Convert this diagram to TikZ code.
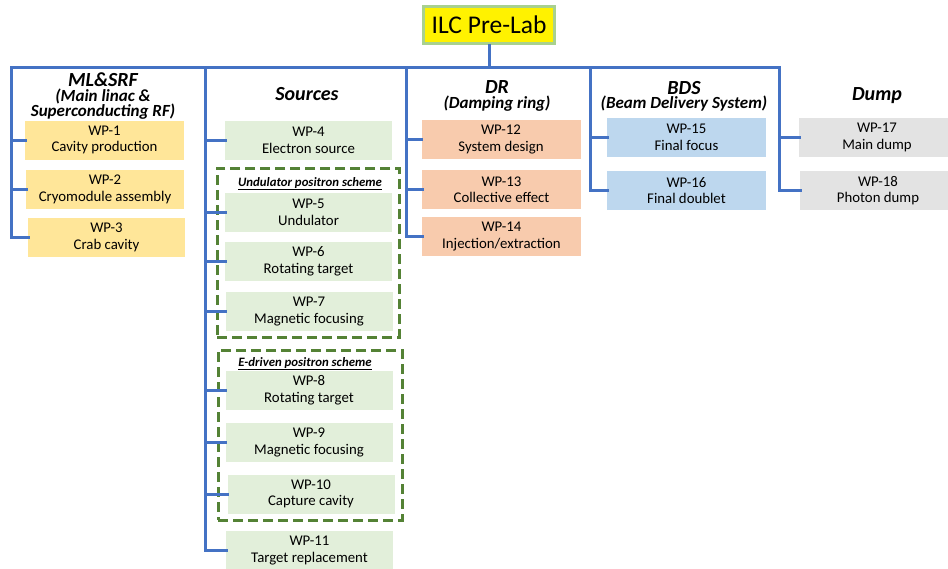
\documentclass[tikz,border=0pt]{standalone}
\usepackage{fontspec}
\setmainfont{Carlito}
\definecolor{conncol}{HTML}{4472C4}
\definecolor{dashcol}{HTML}{548235}
\definecolor{titleborder}{HTML}{A9D18E}
\definecolor{mlfill}{HTML}{FFE699}
\definecolor{srcfill}{HTML}{E2EFDA}
\definecolor{drfill}{HTML}{F8CBAD}
\definecolor{bdsfill}{HTML}{BDD7EE}
\definecolor{dumpfill}{HTML}{E3E3E3}
\tikzset{
  x=1pt, y=-1pt,
  conn/.style={draw=conncol, line width=3pt, line cap=rect},
  wpbox/.style={inner sep=0pt, outer sep=0pt, align=center, minimum height=39pt,
    font=\fontsize{14.8}{16.5}\selectfont},
  ml/.style={wpbox, fill=mlfill},
  src/.style={wpbox, fill=srcfill, minimum width=167pt},
  dr/.style={wpbox, fill=drfill, minimum width=159pt},
  bds/.style={wpbox, fill=bdsfill, minimum width=159pt},
  dmp/.style={wpbox, fill=dumpfill},
  dashbox/.style={draw=dashcol, line width=3pt, dash pattern=on 10pt off 5pt, inner sep=0pt},
  hmain/.style={anchor=base, inner sep=0pt, text height=13pt, text depth=0pt,
    font=\fontsize{20}{22}\selectfont\bfseries\itshape},
  hsub/.style={anchor=base, inner sep=0pt, text height=11pt, text depth=3pt,
    font=\fontsize{17}{19}\selectfont\bfseries\itshape},
  schemelabel/.style={anchor=base, inner sep=0pt, font=\fontsize{12.8}{14}\selectfont\bfseries\itshape},
}
\begin{document}
\begin{tikzpicture}
\useasboundingbox (0,0) rectangle (948,568);

% title
\node[draw=titleborder, line width=3pt, fill=yellow, minimum width=131pt, minimum height=37pt,
  inner sep=0pt, font=\fontsize{25.5}{28}\selectfont] (title) at (489,25) {ILC Pre-Lab};

% dashed groups
\node[dashbox, minimum width=182pt, minimum height=169pt] (und) at (308,252.5) {};
\node[dashbox, minimum width=184pt, minimum height=170pt] (edr) at (310,435) {};
\node[schemelabel] (undlab) at (310,186) {\underline{Undulator positron scheme}};
\node[schemelabel] (edrlab) at (305,366) {\underline{E-driven positron scheme}};

% headers
\node[hmain] (hml) at (103,86) {ML\&SRF};
\node[hsub] (hml2) at (103,101) {(Main linac \&};
\node[hsub] (hml3) at (103,116) {Superconducting RF)};
\node[hmain] (hsrc) at (307,100) {Sources};
\node[hmain] (hdr) at (497,93) {DR};
\node[hsub] (hdr2) at (497,108) {(Damping ring)};
\node[hmain] (hbds) at (684,94) {BDS};
\node[hsub] (hbds2) at (684,108) {(Beam Delivery System)};
\node[hmain] (hdump) at (877,100) {Dump};

% boxes
\node[ml, minimum width=159pt] (wp1) at (104.5,140) {WP-1\\Cavity production};
\node[ml, minimum width=158pt] (wp2) at (105,189.5) {WP-2\\Cryomodule assembly};
\node[ml, minimum width=157pt] (wp3) at (106.5,237.5) {WP-3\\Crab cavity};

\node[src] (wp4) at (308.5,140.5) {WP-4\\Electron source};
\node[src] (wp5) at (308.5,212.5) {WP-5\\Undulator};
\node[src] (wp6) at (308.5,261.5) {WP-6\\Rotating target};
\node[src] (wp7) at (309,311.5) {WP-7\\Magnetic focusing};
\node[src] (wp8) at (309,390) {WP-8\\Rotating target};
\node[src] (wp9) at (309,442.5) {WP-9\\Magnetic focusing};
\node[src] (wp10) at (311,494) {WP-10\\Capture cavity};
\node[src] (wp11) at (309.5,550.5) {WP-11\\Target replacement};

\node[dr] (wp12) at (501,139.5) {WP-12\\System design};
\node[dr] (wp13) at (501.5,189.5) {WP-13\\Collective effect};
\node[dr] (wp14) at (501.5,236.5) {WP-14\\Injection/extraction};

\node[bds] (wp15) at (686.5,137.5) {WP-15\\Final focus};
\node[bds] (wp16) at (686.5,190.5) {WP-16\\Final doublet};

\node[dmp, minimum width=156pt] (wp17) at (877,137.5) {WP-17\\Main dump};
\node[dmp, minimum width=156pt] (wp18) at (878,190.5) {WP-18\\Photon dump};

% connectors
\coordinate (c1) at (11,67);
\coordinate (c2) at (205,67);
\coordinate (c3) at (406,67);
\coordinate (c4) at (590,67);
\coordinate (c5) at (779,67);

\draw[conn] (title.south) -- (title.south |- c1);
\draw[conn] (c1) -- (c5);

\draw[conn] (c1) |- (wp3.west);
\draw[conn] (c1 |- wp1.west) -- (wp1.west);
\draw[conn] (c1 |- wp2.west) -- (wp2.west);

\draw[conn] (c2) |- (wp11.west);
\foreach \n in {wp4,wp5,wp6,wp7,wp8,wp9,wp10}
  \draw[conn] (c2 |- \n.west) -- (\n.west);

\draw[conn] (c3) |- (wp14.west);
\draw[conn] (c3 |- wp12.west) -- (wp12.west);
\draw[conn] (c3 |- wp13.west) -- (wp13.west);

\draw[conn] (c4) |- (wp16.west);
\draw[conn] (c4 |- wp15.west) -- (wp15.west);

\draw[conn] (c5) |- (wp18.west);
\draw[conn] (c5 |- wp17.west) -- (wp17.west);
\end{tikzpicture}
\end{document}
